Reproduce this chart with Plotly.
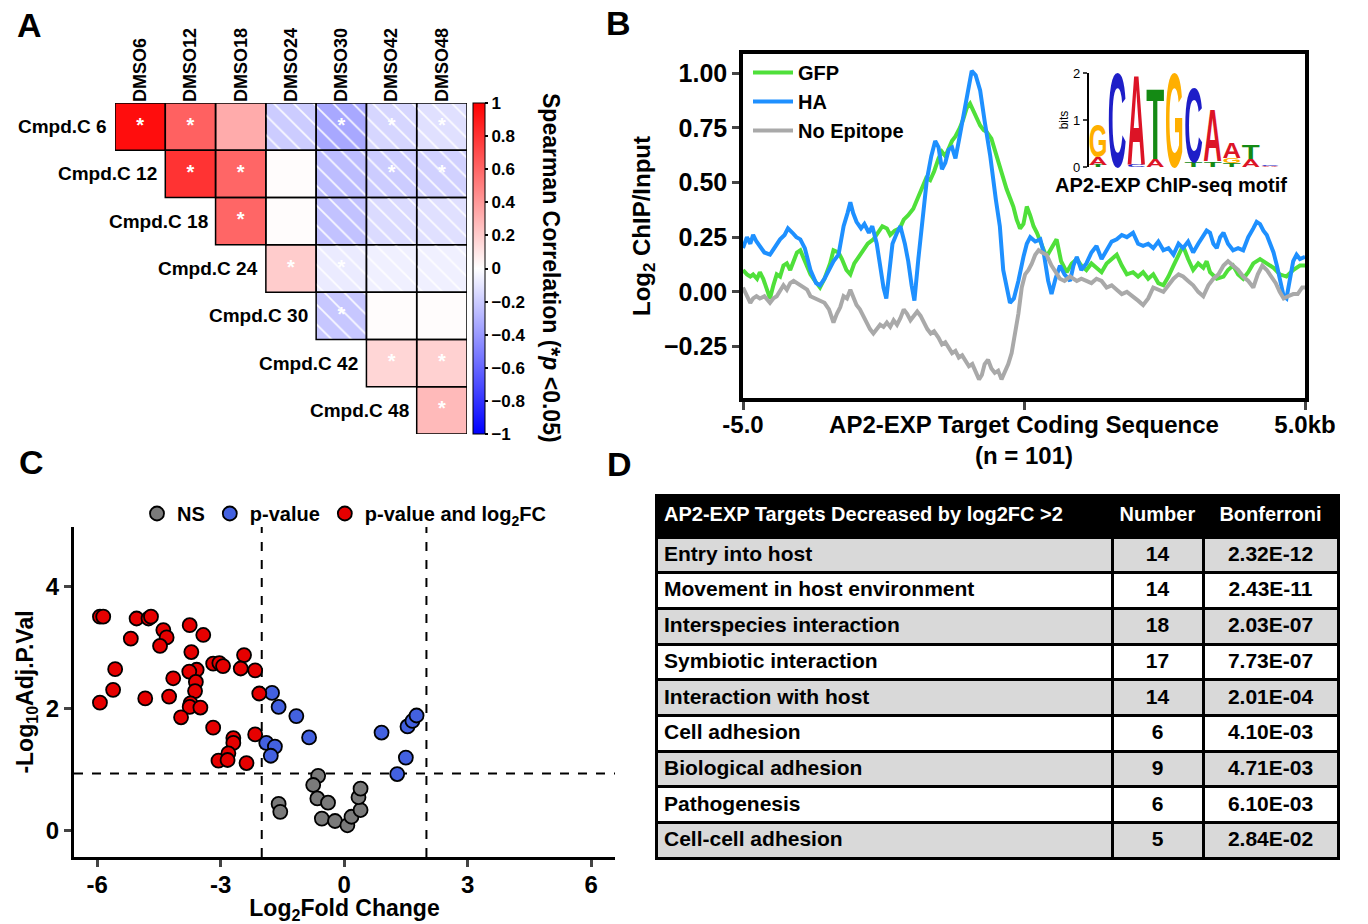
import plotly.graph_objects as go

FONT = "Liberation Sans, Arial, Helvetica, sans-serif"
W, H = 1368, 924

# ---------------- Panel A : Spearman correlation matrix ----------------
dmso_labels = ["DMSO6", "DMSO12", "DMSO18", "DMSO24", "DMSO30", "DMSO42", "DMSO48"]
cmpd_labels = ["Cmpd.C 6", "Cmpd.C 12", "Cmpd.C 18", "Cmpd.C 24", "Cmpd.C 30", "Cmpd.C 42", "Cmpd.C 48"]
spearman_rho = [
    [0.95, 0.62, 0.33, -0.20, -0.34, -0.16, -0.12],
    [None, 0.80, 0.60, 0.01, -0.26, -0.20, -0.18],
    [None, None, 0.60, 0.01, -0.24, -0.14, -0.12],
    [None, None, None, 0.20, -0.08, -0.06, -0.06],
    [None, None, None, None, -0.22, 0.01, 0.01],
    [None, None, None, None, None, 0.16, 0.18],
    [None, None, None, None, None, None, 0.27],
]
spearman_sig = [
    [1, 1, 0, 0, 1, 1, 1],
    [0, 1, 1, 0, 0, 1, 1],
    [0, 0, 1, 0, 0, 0, 0],
    [0, 0, 0, 1, 1, 0, 0],
    [0, 0, 0, 0, 1, 0, 0],
    [0, 0, 0, 0, 0, 1, 1],
    [0, 0, 0, 0, 0, 0, 1],
]

# ---------------- Panel B : ChIP-seq profiles ----------------
gfp_kb = [-5.0, -4.93, -4.87, -4.82, -4.75, -4.70, -4.64, -4.58, -4.52, -4.46, -4.40, -4.34, -4.28, -4.22, -4.16,
          -4.10, -4.04, -3.98, -3.92, -3.86, -3.80, -3.72, -3.63, -3.55, -3.45, -3.39, -3.30, -3.24, -3.16, -3.09,
          -3.02, -2.94, -2.86, -2.78, -2.68, -2.60, -2.52, -2.44, -2.38, -2.30, -2.21, -2.14, -2.06, -1.97, -1.90,
          -1.82, -1.74, -1.67, -1.60, -1.52, -1.46, -1.40, -1.34, -1.28, -1.22, -1.14, -1.08, -1.02, -0.96, -0.90,
          -0.84, -0.78, -0.72, -0.66, -0.58, -0.49, -0.43, -0.37, -0.31, -0.25, -0.19, -0.13, -0.07, -0.01, 0.05,
          0.11, 0.17, 0.23, 0.31, 0.40, 0.49, 0.58, 0.66, 0.76, 0.85, 0.94, 1.02, 1.11, 1.20, 1.29, 1.38, 1.47,
          1.56, 1.65, 1.74, 1.83, 1.94, 2.03, 2.12, 2.21, 2.30, 2.39, 2.48, 2.57, 2.66, 2.75, 2.83, 2.92, 3.01,
          3.10, 3.19, 3.25, 3.31, 3.43, 3.55, 3.63, 3.72, 3.81, 3.90, 3.99, 4.08, 4.20, 4.32, 4.44, 4.55, 4.67,
          4.79, 4.91, 5.0]
gfp_log2 = [0.10, 0.08, 0.07, 0.08, 0.06, 0.09, 0.06, 0.02, -0.03, 0.03, 0.08, 0.07, 0.12, 0.13, 0.10,
            0.14, 0.18, 0.19, 0.15, 0.12, 0.08, 0.05, 0.02, 0.06, 0.13, 0.19, 0.18, 0.15, 0.10, 0.08,
            0.13, 0.16, 0.19, 0.22, 0.24, 0.27, 0.30, 0.29, 0.26, 0.28, 0.29, 0.33, 0.35, 0.38, 0.42,
            0.47, 0.52, 0.51, 0.55, 0.61, 0.64, 0.62, 0.66, 0.69, 0.71, 0.75, 0.79, 0.84, 0.86, 0.83,
            0.79, 0.76, 0.74, 0.73, 0.70, 0.62, 0.57, 0.52, 0.47, 0.43, 0.39, 0.33, 0.29, 0.31, 0.39,
            0.35, 0.30, 0.27, 0.22, 0.16, 0.20, 0.24, 0.14, 0.09, 0.13, 0.15, 0.12, 0.10, 0.13, 0.11, 0.09, 0.13,
            0.15, 0.17, 0.12, 0.08, 0.09, 0.07, 0.09, 0.06, 0.08, 0.04, 0.03, 0.07, 0.12, 0.17, 0.21, 0.15, 0.10,
            0.13, 0.11, 0.14, 0.09, 0.06, 0.07, 0.10, 0.12, 0.08, 0.06, 0.09, 0.13, 0.15, 0.13, 0.11, 0.08, 0.07,
            0.10, 0.12, 0.12]

ha_kb = [-5.0, -4.93, -4.87, -4.82, -4.76, -4.70, -4.62, -4.52, -4.45, -4.40, -4.34, -4.26, -4.20, -4.12, -4.05,
         -3.98, -3.90, -3.80, -3.70, -3.63, -3.55, -3.45, -3.39, -3.30, -3.21, -3.14, -3.09, -3.04, -2.98, -2.90,
         -2.84, -2.76, -2.70, -2.62, -2.56, -2.50, -2.45, -2.40, -2.34, -2.26, -2.20, -2.12, -2.06, -2.00, -1.95,
         -1.88, -1.80, -1.73, -1.65, -1.58, -1.52, -1.46, -1.40, -1.34, -1.28, -1.22, -1.16, -1.08, -1.00, -0.93,
         -0.86, -0.78, -0.70, -0.60, -0.50, -0.43, -0.37, -0.31, -0.25, -0.18, -0.10, -0.01, 0.05, 0.11, 0.20,
         0.29, 0.35, 0.43, 0.49, 0.56, 0.64, 0.72, 0.82, 0.88, 0.94, 1.02, 1.11, 1.20, 1.29, 1.38, 1.47, 1.56,
         1.65, 1.74, 1.83, 1.94, 2.03, 2.12, 2.21, 2.30, 2.39, 2.48, 2.57, 2.66, 2.75, 2.83, 2.92, 3.01, 3.10,
         3.19, 3.25, 3.31, 3.37, 3.43, 3.49, 3.55, 3.63, 3.72, 3.81, 3.90, 3.99, 4.08, 4.14, 4.20, 4.26, 4.32,
         4.38, 4.44, 4.50, 4.55, 4.62, 4.67, 4.73, 4.79, 4.85, 4.91, 5.0]
ha_log2 = [0.20, 0.25, 0.22, 0.26, 0.23, 0.21, 0.18, 0.17, 0.20, 0.22, 0.24, 0.26, 0.29, 0.27, 0.25,
           0.24, 0.20, 0.10, 0.04, 0.03, 0.06, 0.11, 0.14, 0.17, 0.30, 0.36, 0.41, 0.36, 0.32, 0.29,
           0.31, 0.27, 0.30, 0.22, 0.11, 0.02, -0.03, 0.08, 0.22, 0.27, 0.30, 0.22, 0.14, 0.03, -0.04,
           0.15, 0.35, 0.51, 0.62, 0.69, 0.66, 0.56, 0.59, 0.65, 0.66, 0.61, 0.69, 0.80, 0.93, 1.01,
           0.99, 0.92, 0.78, 0.62, 0.42, 0.30, 0.10, 0.02, -0.05, -0.03, 0.05, 0.16, 0.22, 0.25, 0.23,
           0.24, 0.18, 0.05, -0.01, 0.06, 0.12, 0.08, 0.05, 0.12, 0.16, 0.10, 0.13, 0.18, 0.21, 0.15, 0.19, 0.23,
           0.24, 0.26, 0.25, 0.27, 0.22, 0.21, 0.22, 0.20, 0.23, 0.19, 0.20, 0.17, 0.22, 0.20, 0.23, 0.18, 0.22,
           0.26, 0.28, 0.27, 0.22, 0.20, 0.25, 0.27, 0.22, 0.19, 0.20, 0.19, 0.25, 0.29, 0.32, 0.31, 0.28, 0.26,
           0.22, 0.18, 0.12, 0.06, -0.02, -0.03, 0.06, 0.14, 0.17, 0.15, 0.16]

noepi_kb = [-5.0, -4.93, -4.87, -4.82, -4.76, -4.70, -4.62, -4.52, -4.46, -4.40, -4.34, -4.28, -4.22, -4.16, -4.10,
            -4.04, -3.98, -3.92, -3.86, -3.80, -3.72, -3.63, -3.55, -3.47, -3.39, -3.33, -3.27, -3.21, -3.15, -3.09,
            -3.04, -2.98, -2.92, -2.86, -2.80, -2.74, -2.68, -2.62, -2.56, -2.50, -2.44, -2.38, -2.32, -2.26, -2.20,
            -2.14, -2.08, -2.02, -1.96, -1.90, -1.84, -1.78, -1.72, -1.66, -1.60, -1.52, -1.46, -1.40, -1.34, -1.28,
            -1.22, -1.16, -1.10, -1.04, -0.98, -0.92, -0.86, -0.80, -0.75, -0.70, -0.64, -0.58, -0.52, -0.46, -0.40,
            -0.34, -0.28, -0.22, -0.16, -0.10, -0.04, 0.02, 0.08, 0.14, 0.20, 0.26, 0.32, 0.40, 0.49, 0.56, 0.64,
            0.72, 0.82, 0.94, 1.02, 1.11, 1.20, 1.29, 1.38, 1.47, 1.56, 1.65, 1.74, 1.83, 1.94, 2.03, 2.12, 2.21,
            2.30, 2.39, 2.48, 2.57, 2.66, 2.75, 2.83, 2.92, 3.01, 3.10, 3.19, 3.28, 3.37, 3.46, 3.55, 3.63, 3.72,
            3.81, 3.90, 3.99, 4.08, 4.16, 4.24, 4.32, 4.40, 4.48, 4.55, 4.62, 4.70, 4.79, 4.87, 4.95, 5.0]
noepi_log2 = [0.02, -0.02, -0.05, -0.03, -0.02, -0.03, -0.02, -0.05, -0.03, -0.02, 0.01, 0.03, 0.01, 0.04, 0.05,
              0.04, 0.03, 0.02, 0.01, -0.02, -0.03, -0.04, -0.05, -0.08, -0.14, -0.10, -0.07, -0.02, -0.03, 0.01,
              -0.02, -0.06, -0.08, -0.11, -0.14, -0.17, -0.19, -0.17, -0.15, -0.16, -0.14, -0.16, -0.13, -0.15, -0.12,
              -0.08, -0.10, -0.13, -0.11, -0.09, -0.11, -0.14, -0.17, -0.19, -0.18, -0.21, -0.24, -0.23, -0.26, -0.28,
              -0.27, -0.30, -0.29, -0.32, -0.34, -0.33, -0.37, -0.40, -0.38, -0.33, -0.31, -0.35, -0.37, -0.36, -0.40,
              -0.37, -0.33, -0.28, -0.19, -0.10, 0.02, 0.08, 0.10, 0.13, 0.17, 0.19, 0.18, 0.17, 0.12, 0.09, 0.06,
              0.05, 0.07, 0.05, 0.06, 0.05, 0.04, 0.06, 0.05, 0.02, 0.03, 0.01, -0.01, 0.00, -0.02, -0.04, -0.06, -0.03,
              0.02, 0.01, 0.00, 0.03, 0.06, 0.08, 0.07, 0.05, 0.03, 0.00, -0.02, 0.03, 0.06, 0.08, 0.12, 0.14, 0.12,
              0.10, 0.07, 0.05, 0.02, 0.08, 0.12, 0.10, 0.07, 0.04, 0.00, -0.03, -0.02, -0.01, -0.01, 0.02, 0.02]

# sequence logo (stack order bottom -> top)
motif_position = [1, 1, 1, 2, 3, 3, 4, 4, 5, 6, 6, 7, 7, 8, 8, 8, 9, 9, 10, 10]
motif_letter = ["T", "A", "G", "C", "C", "A", "A", "T", "G", "T", "C", "T", "A", "T", "G", "A", "A", "T", "A", "C"]
motif_bits = [0.04, 0.17, 0.68, 2.0, 0.04, 1.92, 0.16, 1.50, 2.0, 0.10, 1.58, 0.12, 1.11, 0.08, 0.12, 0.34, 0.17, 0.29,
              0.02, 0.03]
letter_colors = {"A": "#DC1426", "C": "#1E1EC8", "G": "#FFAF00", "T": "#148A14"}

# ---------------- Panel C : volcano ----------------
ns_log2fc = [-1.59, -1.55, -0.63, -0.75, -0.65, -0.39, -0.54, -0.22, 0.08, 0.18, 0.40, 0.35, 0.40]
ns_neglog10p = [0.43, 0.30, 0.89, 0.74, 0.52, 0.45, 0.19, 0.15, 0.08, 0.22, 0.33, 0.54, 0.68]
pval_log2fc = [-1.75, -1.59, -1.16, -0.85, -1.89, -1.68, -1.78, 0.91, 1.54, 1.66, 1.76, 1.50, 1.29]
pval_neglog10p = [2.25, 2.02, 1.87, 1.52, 1.43, 1.37, 1.22, 1.60, 1.70, 1.79, 1.88, 1.19, 0.92]
both_log2fc = [-5.93, -5.85, -5.04, -4.75, -4.69, -5.18, -4.39, -4.31, -4.47, -3.75, -3.42, -3.71, -3.18, -3.03,
               -2.94, -2.43, -2.51, -2.16, -5.56, -5.61, -5.93, -4.83, -4.25, -4.15, -3.58, -3.76, -3.60, -3.62,
               -3.73, -3.75, -3.49, -3.96, -2.06, -3.18, -2.69, -2.69, -2.16, -3.05, -2.81, -2.83, -2.37]
both_neglog10p = [3.50, 3.50, 3.47, 3.47, 3.50, 3.14, 3.28, 3.16, 3.02, 3.36, 3.20, 2.92, 2.73, 2.74,
                  2.69, 2.87, 2.65, 2.62, 2.64, 2.30, 2.09, 2.16, 2.19, 2.49, 2.63, 2.60, 2.43, 2.28,
                  2.08, 2.02, 2.01, 1.85, 2.24, 1.68, 1.51, 1.43, 1.57, 1.14, 1.26, 1.15, 1.10]
fc_cutoff = 2
p_cutoff = 0.93

# ---------------- Panel D : GO table ----------------
go_header = ["AP2-EXP Targets Decreased by log2FC >2", "Number", "Bonferroni"]
go_terms = ["Entry into host", "Movement in host environment", "Interspecies interaction", "Symbiotic interaction",
            "Interaction with host", "Cell adhesion", "Biological adhesion", "Pathogenesis", "Cell-cell adhesion"]
go_number = [14, 14, 18, 17, 14, 6, 9, 6, 5]
go_bonferroni = ["2.32E-12", "2.43E-11", "2.03E-07", "7.73E-07", "2.01E-04", "4.10E-03", "4.71E-03", "6.10E-03",
                 "2.84E-02"]


def fx(p):
    return p / W


def fy(p):
    return 1 - p / H


fig = go.Figure()

# ---- Panel A traces
n = len(dmso_labels)
fig.add_trace(go.Heatmap(
    z=spearman_rho, x=list(range(n)), y=list(range(n)), zmin=-1, zmax=1,
    colorscale=[[0, "#0000FF"], [0.5, "#FFFFFF"], [1, "#FF0000"]],
    xaxis="x", yaxis="y", hoverinfo="skip",
    colorbar=dict(x=fx(473), xanchor="left", y=fy(268.5), yanchor="middle", len=331, lenmode="pixels",
                  thickness=12, thicknessmode="pixels", xpad=0, ypad=0, outlinewidth=1, outlinecolor="black",
                  tickmode="linear", tick0=-1, dtick=0.2, ticks="outside", ticklen=3, tickwidth=1.5,
                  tickcolor="black", tickfont=dict(size=17, family=FONT, color="black", weight="bold")),
))
cell_x, cell_base, cell_pattern = [], [], []
star_x, star_y = [], []
for i, row in enumerate(spearman_rho):
    for j, v in enumerate(row):
        if v is None:
            continue
        cell_x.append(j)
        cell_base.append(i - 0.5)
        cell_pattern.append("\\" if v < 0 else "")
        if spearman_sig[i][j]:
            star_x.append(j)
            star_y.append(i)
fig.add_trace(go.Bar(
    x=cell_x, y=[1] * len(cell_x), base=cell_base, width=1, xaxis="x", yaxis="y",
    marker=dict(color="rgba(0,0,0,0)", line=dict(color="black", width=1.5),
                pattern=dict(shape=cell_pattern, fgcolor="white", fgopacity=0.9, size=14, solidity=0.12,
                             fillmode="overlay")),
    showlegend=False, hoverinfo="skip"))
fig.add_trace(go.Scatter(
    x=star_x, y=star_y, mode="text", text=["*"] * len(star_x), xaxis="x", yaxis="y",
    textfont=dict(color="white", size=20, family=FONT), showlegend=False, hoverinfo="skip"))
# row labels, right-aligned against the diagonal cell of each row
for i, lab in enumerate(cmpd_labels):
    fig.add_annotation(xref="x", yref="y", x=i - 0.5, y=i, text=lab, showarrow=False, xanchor="right",
                       yanchor="middle", xshift=-6, font=dict(size=19, color="black"))

# ---- Panel B traces
fig.add_trace(go.Scatter(x=gfp_kb, y=gfp_log2, mode="lines", name="GFP", line=dict(color="#4FE03A", width=4),
                         xaxis="x2", yaxis="y2", legend="legend"))
fig.add_trace(go.Scatter(x=ha_kb, y=ha_log2, mode="lines", name="HA", line=dict(color="#1E90FF", width=4),
                         xaxis="x2", yaxis="y2", legend="legend"))
fig.add_trace(go.Scatter(x=noepi_kb, y=noepi_log2, mode="lines", name="No Epitope",
                         line=dict(color="#A9A9A9", width=4), xaxis="x2", yaxis="y2", legend="legend"))

# motif letters (stacked)
stack_top = {}
motif_base = []
for p, b in zip(motif_position, motif_bits):
    base = stack_top.get(p, 0.0)
    motif_base.append(base)
    stack_top[p] = base + b
fig.add_trace(go.Scatter(
    x=motif_position, y=motif_base, mode="text", text=motif_letter, customdata=motif_bits, uid="motif",
    textposition="middle center", cliponaxis=False, xaxis="x3", yaxis="y3", showlegend=False, hoverinfo="skip",
    textfont=dict(size=22, family=FONT, weight="bold", color=[letter_colors[c] for c in motif_letter])))

# ---- Panel C traces
mk = dict(size=14, line=dict(color="black", width=1.8))
fig.add_trace(go.Scatter(x=ns_log2fc, y=ns_neglog10p, mode="markers", name="NS",
                         marker=dict(color="#7A7A7A", **mk), xaxis="x4", yaxis="y4", legend="legend2"))
fig.add_trace(go.Scatter(x=pval_log2fc, y=pval_neglog10p, mode="markers", name="p-value",
                         marker=dict(color="#4361E0", **mk), xaxis="x4", yaxis="y4", legend="legend2"))
fig.add_trace(go.Scatter(x=both_log2fc, y=both_neglog10p, mode="markers", name="p-value and log<sub>2</sub>FC",
                         marker=dict(color="#E60000", **mk), xaxis="x4", yaxis="y4", legend="legend2"))

# ---- Panel D table
row_fill = ["#D9D9D9" if k % 2 == 0 else "#FFFFFF" for k in range(len(go_terms))]
fig.add_trace(go.Table(
    domain=dict(x=[fx(656), fx(1338)], y=[fy(866), fy(495)]),
    columnwidth=[456, 91, 135],
    header=dict(values=[f"<b>{h}</b>" for h in go_header], fill_color="black",
                line=dict(color="black", width=3), align=["left", "center", "center"], height=42,
                font=dict(color="white", size=20, family=FONT, weight="bold")),
    cells=dict(values=[go_terms, go_number, go_bonferroni], fill_color=[row_fill] * 3,
               line=dict(color="black", width=3), align=["left", "center", "center"], height=35.7,
               font=dict(color="black", size=21, family=FONT, weight="bold")),
))

# ---- axes
base_ax = dict(showgrid=False, zeroline=False, automargin=False)
fig.update_layout(
    xaxis=dict(domain=[fx(115), fx(467)], range=[-0.5, 6.5], side="top", tickmode="array",
               tickvals=list(range(n)), ticktext=dmso_labels, tickangle=-90, ticks="", showline=False,
               tickfont=dict(size=18), anchor="y", **base_ax),
    yaxis=dict(domain=[fy(434), fy(103)], range=[6.5, -0.5], showticklabels=False, ticks="", showline=False,
               anchor="x", **base_ax),
    xaxis2=dict(domain=[fx(743), fx(1305)], range=[-5, 5], tickmode="array", tickvals=[-5, 0, 5],
                ticktext=["-5.0", "AP2-EXP Target Coding Sequence<br>(n = 101)", "5.0kb"],
                ticks="outside", ticklen=8, tickwidth=3, showline=True, linewidth=3.5, linecolor="black",
                mirror=True, tickfont=dict(size=24), ticklabelstandoff=-6, anchor="y2", **base_ax),
    yaxis2=dict(domain=[fy(398), fy(54)], range=[-0.485, 1.087], tickmode="array",
                tickvals=[-0.25, 0, 0.25, 0.5, 0.75, 1.0], tickformat=".2f", ticks="outside", ticklen=7,
                tickwidth=3, showline=True, linewidth=3.5, linecolor="black", mirror=True,
                tickfont=dict(size=25), anchor="x2",
                title=dict(text="Log<sub>2</sub> ChIP/Input", font=dict(size=24), standoff=8), **base_ax),
    xaxis3=dict(domain=[fx(1088.5), fx(1279.5)], range=[0.5, 10.5], visible=False, anchor="y3", **base_ax),
    yaxis3=dict(domain=[fy(167), fy(73)], range=[0, 2], tickmode="array", tickvals=[0, 1, 2], ticks="outside",
                ticklen=4, tickwidth=1.5, showline=True, linewidth=1.5, linecolor="black", anchor="x3",
                tickfont=dict(size=13, weight="normal"),
                title=dict(text="bits", font=dict(size=12, weight="normal"), standoff=2), **base_ax),
    xaxis4=dict(domain=[fx(74), fx(615)], range=[-6.56, 6.58], tickmode="array", tickvals=[-6, -3, 0, 3, 6],
                ticktext=["-6", "-3", "0", "3", "6"], ticks="outside", ticklen=7, tickwidth=3, showline=True,
                linewidth=3, linecolor="black", tickfont=dict(size=24), ticklabelstandoff=-3, anchor="y4",
                title=dict(text="Log<sub>2</sub>Fold Change", font=dict(size=23), standoff=2), **base_ax),
    yaxis4=dict(domain=[fy(857), fy(527)], range=[-0.44, 4.97], tickmode="array", tickvals=[0, 2, 4],
                ticks="outside", ticklen=7, tickwidth=3, showline=True, linewidth=3, linecolor="black",
                tickfont=dict(size=24), anchor="x4",
                title=dict(text="-Log<sub>10</sub>Adj.P.Val", font=dict(size=23), standoff=6), **base_ax),
)

# ---- threshold lines (panel C)
dash = dict(color="black", width=2, dash="dash")
for xv in (-fc_cutoff, fc_cutoff):
    fig.add_shape(type="line", xref="x4", yref="y4 domain", x0=xv, x1=xv, y0=0, y1=1, line=dash, layer="below")
fig.add_shape(type="line", xref="x4 domain", yref="y4", x0=0, x1=1, y0=p_cutoff, y1=p_cutoff, line=dash,
              layer="below")

# ---- annotations
ann = [
    dict(text="A", x=fx(29), y=fy(25), font=dict(size=34)),
    dict(text="B", x=fx(618), y=fy(23), font=dict(size=34)),
    dict(text="C", x=fx(31), y=fy(462), font=dict(size=34)),
    dict(text="D", x=fx(619), y=fy(464), font=dict(size=34)),
    dict(text="Spearman Correlation (*<i>p</i> <0.05)", x=fx(551), y=fy(268), textangle=90,
         font=dict(size=23)),
    dict(text="AP2-EXP ChIP-seq motif", x=fx(1171), y=fy(185), font=dict(size=20)),
]
for a in ann:
    fig.add_annotation(xref="paper", yref="paper", showarrow=False, xanchor="center", yanchor="middle", **a)

fig.update_layout(
    width=W, height=H, margin=dict(l=0, r=0, t=0, b=0, autoexpand=False),
    paper_bgcolor="white", plot_bgcolor="rgba(0,0,0,0)",
    font=dict(family=FONT, color="black", weight="bold"),
    legend=dict(x=fx(748), y=fy(53), xanchor="left", yanchor="top", bgcolor="rgba(0,0,0,0)",
                font=dict(size=20), tracegroupgap=0, itemwidth=40),
    legend2=dict(orientation="h", x=fx(137), y=fy(494), xanchor="left", yanchor="top",
                 bgcolor="rgba(0,0,0,0)", font=dict(size=20)),
)

post_js = r"""
document.body.style.margin = '0';
var gd = document.getElementById('{plot_id}');
(function stretchLogo(){
  var tr = null;
  for (var k = 0; k < gd.data.length; k++) { if (gd.data[k].uid === 'motif') { tr = gd.data[k]; } }
  if (!tr) return;
  var xa = gd._fullLayout.xaxis3, ya = gd._fullLayout.yaxis3;
  var pxPerBit = ya._length / (ya.range[1] - ya.range[0]);
  var colW = xa._length / (xa.range[1] - xa.range[0]);
  var nodes = gd.querySelectorAll('g.tracemotif g.textpoint text');
  for (var i = 0; i < nodes.length; i++) {
    var t = nodes[i];
    var h = tr.customdata[i];
    var fs = parseFloat(t.style.fontSize) || 22;
    var bb = t.getBBox();
    var X = parseFloat(t.getAttribute('x')), Y0 = parseFloat(t.getAttribute('y'));
    var gdy = 0, g = t.parentNode;
    if (g.transform && g.transform.baseVal && g.transform.baseVal.numberOfItems) {
      gdy = g.transform.baseVal.consolidate().matrix.f;
    }
    var Yt = ya.c2p(tr.y[i]) - gdy;
    var sy = h * pxPerBit / (0.70 * fs);
    var sx = 0.98 * colW / bb.width;
    t.setAttribute('transform', 'translate(' + X + ',' + Yt + ') scale(' + sx + ',' + sy + ') translate(' + (-X) + ',' + (-Y0) + ')');
  }
})();
"""

fig.write_html("out.html", post_script=post_js, config={"displayModeBar": False})
